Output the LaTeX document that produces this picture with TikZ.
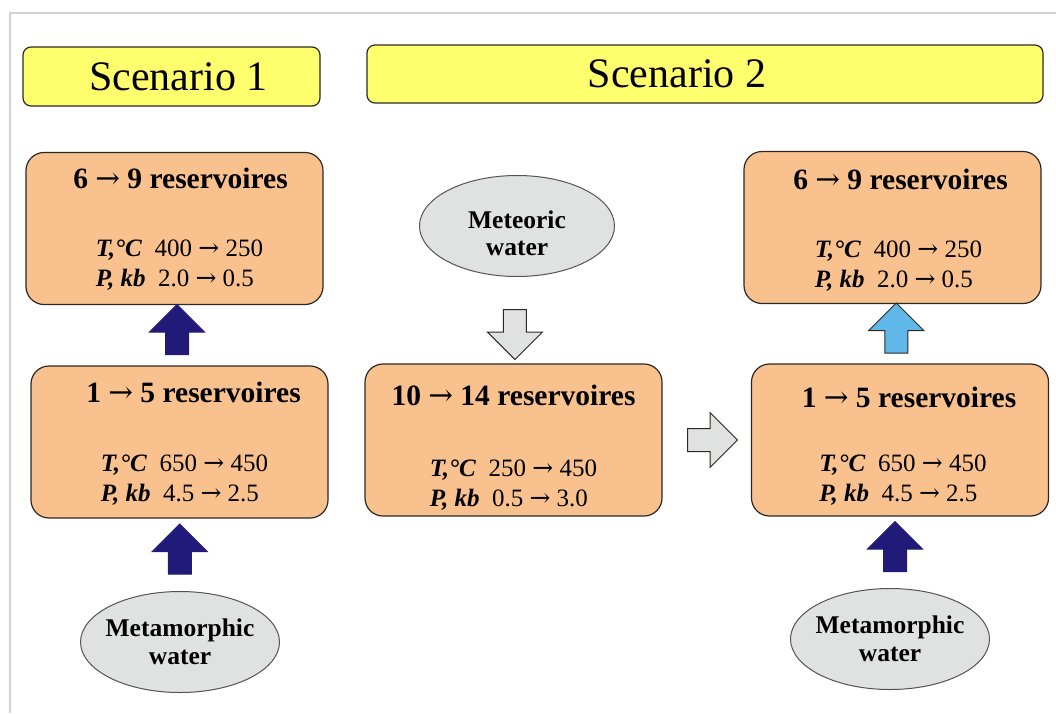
\documentclass[tikz,border=0pt]{standalone}
\usepackage{fontspec}
\setmainfont{Liberation Serif}
\newfontfamily\arrowfont{DejaVu Serif}
\newcommand{\arr}{{\arrowfont\mdseries →}}
\usetikzlibrary{positioning,shapes.geometric,shapes.arrows,calc}

\definecolor{titleyellow}{RGB}{255,255,110}
\definecolor{peach}{RGB}{248,193,142}
\definecolor{navyblue}{RGB}{34,26,120}
\definecolor{skyblue}{RGB}{96,184,234}
\definecolor{pebble}{RGB}{224,225,225}
\definecolor{outline}{RGB}{45,40,35}
\definecolor{framegray}{RGB}{210,210,210}

\begin{document}
\begin{tikzpicture}[%
        x=1pt, y=-1pt,
        scenario/.style={%
            draw=outline, fill=titleyellow, line width=1.2pt,
            rounded corners=8pt, inner sep=0pt,
        },
        scenariotitle/.style={%
            node font=\fontsize{42}{48}\selectfont,
        },
        reservoir/.style={%
            draw=outline, fill=peach, line width=1.2pt,
            rounded corners=18pt, minimum width=297pt, minimum height=152pt,
        },
        heading/.style={%
            anchor=center,
            node font=\fontsize{29.5}{34}\selectfont\bfseries,
        },
        conditions/.style={%
            anchor=center, align=left,
            node font=\fontsize{25}{30}\selectfont,
        },
        water/.style={%
            ellipse, draw=outline!80, fill=pebble, line width=1pt,
            minimum width=195pt, minimum height=101pt, inner xsep=-4pt, inner ysep=0pt,
            align=center, node font=\fontsize{25.5}{27.5}\selectfont\bfseries,
        },
        blockarrow/.style={%
            single arrow, text height=0pt, text depth=0pt, text width=0pt,
            inner xsep=0pt, inner ysep=11pt, single arrow head extend=16pt,
            minimum height=50pt, line width=1pt,
        },
        deeparrow/.style={blockarrow, draw=navyblue, fill=navyblue},
        coolarrow/.style={blockarrow, draw=outline, fill=skyblue},
        mixarrow/.style={blockarrow, draw=outline, fill=pebble},
    ]

    \useasboundingbox (0,0) rectangle (1056,713);
    \draw [framegray, line width=1.2pt] (10,713) -- (10,13) -- (1056,13);

    % scenario headers
    \node (scenario_one) at (171.5,76.5) [scenario, minimum width=297pt, minimum height=59pt] {};
    \node (scenario_one_title) at ([xshift=7pt]scenario_one.center) [scenariotitle] {Scenario 1};
    \node (scenario_two) at (705,74) [scenario, minimum width=676pt, minimum height=58pt] {};
    \node (scenario_two_title) at ([xshift=-28pt]scenario_two.center) [scenariotitle] {Scenario 2};

    % scenario 1
    \node (left_top) at (174.5,228.5) [reservoir] {};
    \node [below = 27pt of left_top.north, xshift=6pt] [heading] {6 \arr{} 9 reservoires};
    \node [above = 40pt of left_top.south, xshift=5pt] [conditions]
        {\textbf{\textit{T,°C}}\enspace 400 \arr{} 250\\ \textbf{\textit{P, kb}}\enspace 2.0 \arr{} 0.5};

    \node (left_low) at (179.5,442) [reservoir] {};
    \node [below = 27pt of left_low.north, xshift=14pt] [heading] {1 \arr{} 5 reservoires};
    \node [above = 38pt of left_low.south, xshift=5pt] [conditions]
        {\textbf{\textit{T,°C}}\enspace 650 \arr{} 450\\ \textbf{\textit{P, kb}}\enspace 4.5 \arr{} 2.5};

    \node (left_source) at (180,642) [water] {Metamorphic\\water};

    \node (left_rise) at ($(left_top.south)!0.5!(left_low.north)$) [deeparrow, rotate=90] {};
    \node (left_feed) at ($(left_low.south)!0.5!(left_source.north)$) [deeparrow, rotate=90] {};

    % scenario 2
    \node (meteoric) at (517,226) [water] {\rule{0pt}{32pt}Meteoric\\water};

    \node (middle) at (513.5,440) [reservoir] {};
    \node [below = 32pt of middle.north] [heading] {10 \arr{} 14 reservoires};
    \node [above = 31pt of middle.south] [conditions]
        {\textbf{\textit{T,°C}}\enspace 250 \arr{} 450\\ \textbf{\textit{P, kb}}\enspace 0.5 \arr{} 3.0};

    \node (right_top) at (892.5,227.5) [reservoir] {};
    \node [below = 29pt of right_top.north, xshift=8pt] [heading] {6 \arr{} 9 reservoires};
    \node [above = 38pt of right_top.south, xshift=6pt] [conditions]
        {\textbf{\textit{T,°C}}\enspace 400 \arr{} 250\\ \textbf{\textit{P, kb}}\enspace 2.0 \arr{} 0.5};

    \node (right_low) at (900,440) [reservoir] {};
    \node [below = 34pt of right_low.north, xshift=9pt] [heading] {1 \arr{} 5 reservoires};
    \node [above = 36pt of right_low.south, xshift=3pt] [conditions]
        {\textbf{\textit{T,°C}}\enspace 650 \arr{} 450\\ \textbf{\textit{P, kb}}\enspace 4.5 \arr{} 2.5};

    \node (right_source) at (890,639) [water] {Metamorphic\\water};

    \node (meteoric_inflow) at ($(meteoric.south)!0.6!(middle.north)$) [mixarrow, rotate=-90] {};
    \node (mixing) at ($(middle.east)!0.5!(right_low.west)$) [mixarrow] {};
    \node (right_rise) at ($(right_top.south)!0.5!(right_low.north)$) [coolarrow, rotate=90] {};
    \node (right_feed) at ($(right_low.south)!0.5!(right_source.north)$) [deeparrow, rotate=90] {};
\end{tikzpicture}
\end{document}
